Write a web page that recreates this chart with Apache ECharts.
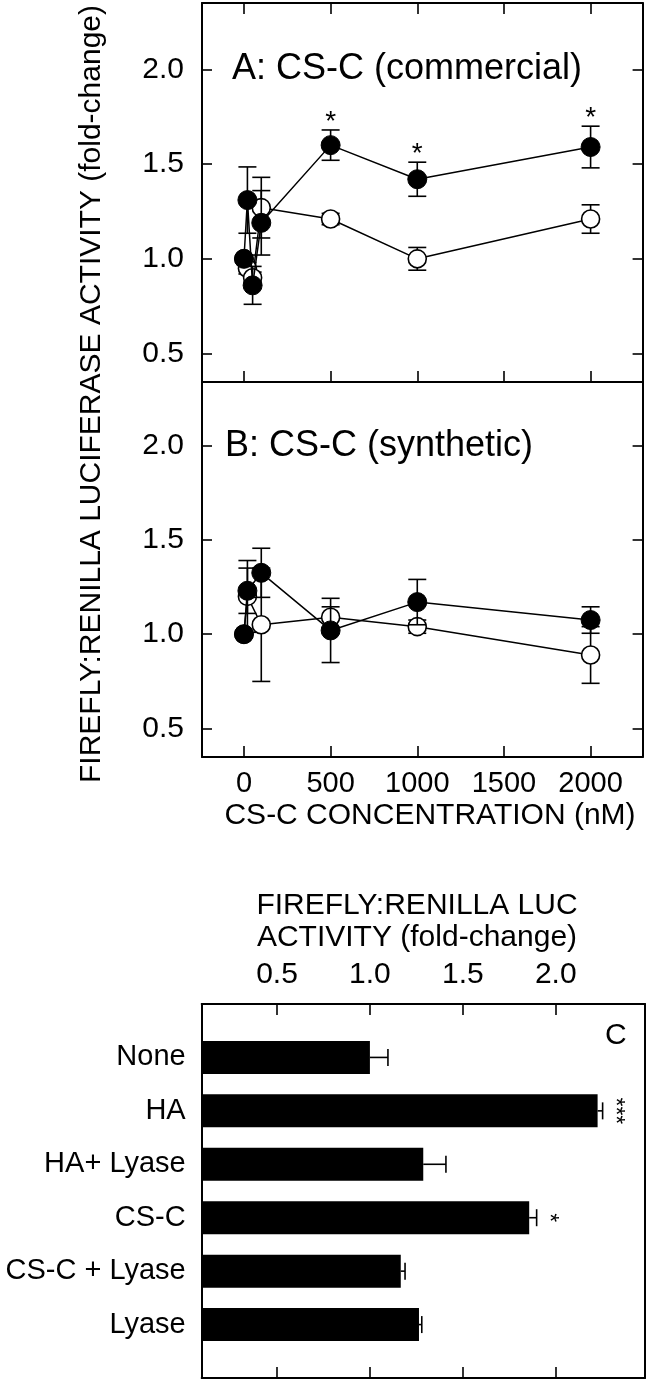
<!DOCTYPE html>
<html>
<head>
<meta charset="utf-8">
<script src="https://cdn.jsdelivr.net/npm/echarts@6/dist/echarts.min.js"></script>
<style>
  html, body { margin: 0; padding: 0; background: #fff; }
  #chart { width: 650px; height: 1382px; }
</style>
</head>
<body>
<div id="chart"></div>
<script>
// ---------- data ----------
const xTickValues = [0, 500, 1000, 1500, 2000];
const yTickValues = [0.5, 1.0, 1.5, 2.0];
const cTickValues = [0.5, 1.0, 1.5, 2.0];

// Panel A: CS-C (commercial)
const concA = [0, 20, 50, 100, 500, 1000, 2000];
const aFilled = [1.00, 1.31, 0.86, 1.19, 1.60, 1.42, 1.59];
const aFilledErr = [0, 0.175, 0.10, 0.17, 0.08, 0.09, 0.11];
const aOpen = [1.00, 0.95, 0.90, 1.27, 1.21, 1.00, 1.21];
const aOpenErr = [0, 0.03, 0.03, 0.16, 0.03, 0.06, 0.075];
const aSignificant = [500, 1000, 2000];

// Panel B: CS-C (synthetic)
const concB = [0, 20, 100, 500, 1000, 2000];
const bFilled = [1.00, 1.23, 1.325, 1.02, 1.17, 1.075];
const bFilledErr = [0, 0.12, 0.13, 0.17, 0.12, 0.07];
const bOpen = [1.00, 1.20, 1.05, 1.09, 1.04, 0.89];
const bOpenErr = [0, 0.19, 0.30, 0.055, 0.035, 0.15];

// Panel C
const treatments = ['None', 'HA', 'HA+ Lyase', 'CS-C', 'CS-C + Lyase', 'Lyase'];
const cValues = [1.00, 2.225, 1.287, 1.857, 1.166, 1.264];
const cErr = [0.097, 0.027, 0.122, 0.04, 0.023, 0.015];
const cSig = ['', '***', '', '*', '', ''];

// ---------- helpers ----------
const FONT = '"Liberation Sans", Arial, Helvetica, sans-serif';
const BLACK = '#000';

function pairs(xs, ys) { return xs.map((x, i) => [x, ys[i]]); }
function triples(xs, ys, es, sigList) {
  return xs.map((x, i) => [x, ys[i], es[i], sigList && sigList.indexOf(x) >= 0 ? 1 : 0]);
}

function vErrRender(params, api) {
  const x = api.value(0), y = api.value(1), e = api.value(2), sig = api.value(3);
  const children = [];
  const top = api.coord([x, y + e]);
  const bot = api.coord([x, y - e]);
  const cap = 9;
  const ls = { stroke: BLACK, lineWidth: 1.6 };
  if (e > 0) {
    children.push({ type: 'line', shape: { x1: top[0], y1: top[1], x2: bot[0], y2: bot[1] }, style: ls });
    children.push({ type: 'line', shape: { x1: top[0] - cap, y1: top[1], x2: top[0] + cap, y2: top[1] }, style: ls });
    children.push({ type: 'line', shape: { x1: bot[0] - cap, y1: bot[1], x2: bot[0] + cap, y2: bot[1] }, style: ls });
  }
  if (sig) {
    children.push({ type: 'text', x: top[0], y: top[1] - 8,
      style: { text: '*', font: '28px ' + FONT, fill: BLACK, align: 'center', verticalAlign: 'middle' } });
  }
  return { type: 'group', children };
}

function hErrRender(params, api) {
  const v = api.value(0), idx = api.value(1), e = api.value(2);
  const start = api.coord([v, idx]);
  const end = api.coord([v + e, idx]);
  const cap = 8.5;
  const ls = { stroke: BLACK, lineWidth: 1.6 };
  const children = [
    { type: 'line', shape: { x1: start[0], y1: start[1], x2: end[0], y2: end[1] }, style: ls },
    { type: 'line', shape: { x1: end[0], y1: end[1] - cap, x2: end[0], y2: end[1] + cap }, style: ls }
  ];
  const s = cSig[params.dataIndex];
  if (s) {
    children.push({ type: 'text', x: end[0] + 12, y: end[1], rotation: -Math.PI / 2,
      style: { text: s, font: '23px ' + FONT, fill: BLACK, align: 'center', verticalAlign: 'middle' } });
  }
  return { type: 'group', children };
}

const axisLine = { show: true, onZero: false, lineStyle: { color: BLACK, width: 2 } };
const tickStyle = { color: BLACK, width: 1.6 };

function xValueAxis(grid, position, withTicks, withLabels) {
  return {
    type: 'value', gridIndex: grid, position, min: -242, max: 2300,
    axisLine,
    axisTick: { show: withTicks, inside: true, length: 11, lineStyle: tickStyle, customValues: xTickValues },
    axisLabel: { show: withLabels, customValues: xTickValues, margin: 12,
      fontFamily: FONT, fontSize: 29, color: BLACK, formatter: v => String(v) },
    splitLine: { show: false }
  };
}
function yValueAxis(grid, position, withLabels, max) {
  return {
    type: 'value', gridIndex: grid, position, min: 0.35, max,
    axisLine,
    axisTick: { show: true, inside: true, length: 10, lineStyle: tickStyle, customValues: yTickValues },
    axisLabel: { show: withLabels, customValues: yTickValues, margin: 18,
      fontFamily: FONT, fontSize: 30, color: BLACK, formatter: v => v.toFixed(1) },
    splitLine: { show: false }
  };
}
function cXAxis(position, withLabels) {
  return {
    type: 'value', gridIndex: 2, position, min: 0.095, max: 2.48,
    axisLine,
    axisTick: { show: true, inside: true, length: 11, lineStyle: tickStyle, customValues: cTickValues },
    axisLabel: { show: withLabels, customValues: cTickValues, margin: 14,
      fontFamily: FONT, fontSize: 30, color: BLACK, formatter: v => v.toFixed(1) },
    splitLine: { show: false }
  };
}
const cCategories = [''].concat(treatments, ['']);
function cYAxis(position, withLabels) {
  return {
    type: 'category', gridIndex: 2, position, data: cCategories, inverse: true, boundaryGap: false,
    axisLine, axisTick: { show: false },
    axisLabel: { show: withLabels, margin: 16, fontFamily: FONT, fontSize: 29, color: BLACK, interval: 0 },
    splitLine: { show: false }
  };
}

function lineSeries(xi, yi, data, filled, z) {
  return {
    type: 'line', xAxisIndex: xi, yAxisIndex: yi, data, z,
    symbol: 'circle', symbolSize: filled ? 19 : 18, showSymbol: true,
    lineStyle: { color: BLACK, width: 1.5 },
    itemStyle: filled ? { color: BLACK, borderColor: BLACK, borderWidth: 1 } : { color: '#fff', borderColor: BLACK, borderWidth: 1.6 },
    emphasis: { disabled: true }, animation: false
  };
}
function errSeries(xi, yi, data, z) {
  return { type: 'custom', xAxisIndex: xi, yAxisIndex: yi, data, z, renderItem: vErrRender, animation: false, silent: true };
}

const option = {
  animation: false,
  backgroundColor: '#fff',
  grid: [
    { left: 202, top: 3, width: 440.6, height: 379 },
    { left: 202, top: 382, width: 440.6, height: 375 },
    { left: 201.7, top: 1004, width: 443.3, height: 374 }
  ],
  xAxis: [
    xValueAxis(0, 'bottom', true, false),
    xValueAxis(0, 'top', true, false),
    xValueAxis(1, 'bottom', true, true),
    xValueAxis(1, 'top', false, false),
    cXAxis('top', true),
    cXAxis('bottom', false)
  ],
  yAxis: [
    yValueAxis(0, 'left', true, 2.35),
    yValueAxis(0, 'right', false, 2.35),
    yValueAxis(1, 'left', true, 2.335),
    yValueAxis(1, 'right', false, 2.335),
    cYAxis('left', true),
    cYAxis('right', false)
  ],
  series: [
    // Panel A
    errSeries(0, 0, triples(concA, aOpen, aOpenErr, null), 1),
    lineSeries(0, 0, pairs(concA, aOpen), false, 2),
    errSeries(0, 0, triples(concA, aFilled, aFilledErr, aSignificant), 3),
    lineSeries(0, 0, pairs(concA, aFilled), true, 4),
    // Panel B
    errSeries(2, 2, triples(concB, bOpen, bOpenErr, null), 1),
    lineSeries(2, 2, pairs(concB, bOpen), false, 2),
    errSeries(2, 2, triples(concB, bFilled, bFilledErr, null), 3),
    lineSeries(2, 2, pairs(concB, bFilled), true, 4),
    // Panel C
    {
      type: 'bar', xAxisIndex: 4, yAxisIndex: 4, barWidth: 33, z: 2,
      data: cValues.map((v, i) => [v, i + 1]),
      itemStyle: { color: BLACK }, emphasis: { disabled: true }, animation: false
    },
    {
      type: 'custom', xAxisIndex: 4, yAxisIndex: 4, z: 3, renderItem: hErrRender, silent: true,
      data: cValues.map((v, i) => [v, i + 1, cErr[i]]), animation: false
    }
  ],
  graphic: [
    { type: 'text', left: 232, top: 51, style: { text: 'A: CS-C (commercial)', font: '36px ' + FONT, fill: BLACK } },
    { type: 'text', left: 225, top: 428, style: { text: 'B: CS-C (synthetic)', font: '36px ' + FONT, fill: BLACK } },
    { type: 'text', left: 605, top: 1021, style: { text: 'C', font: '30px ' + FONT, fill: BLACK } },
    { type: 'text', x: 92, y: 394, rotation: Math.PI / 2,
      style: { text: 'FIREFLY:RENILLA LUCIFERASE ACTIVITY (fold-change)', font: '30px ' + FONT, fill: BLACK, align: 'center', verticalAlign: 'middle' } },
    { type: 'text', x: 430, y: 816,
      style: { text: 'CS-C CONCENTRATION (nM)', font: '30px ' + FONT, fill: BLACK, align: 'center', verticalAlign: 'middle' } },
    { type: 'text', x: 417, y: 906,
      style: { text: 'FIREFLY:RENILLA LUC', font: '30px ' + FONT, fill: BLACK, align: 'center', verticalAlign: 'middle' } },
    { type: 'text', x: 417, y: 938,
      style: { text: 'ACTIVITY (fold-change)', font: '30px ' + FONT, fill: BLACK, align: 'center', verticalAlign: 'middle' } }
  ]
};

const chart = echarts.init(document.getElementById('chart'), null, { renderer: 'canvas' });
chart.setOption(option);
</script>
</body>
</html>
